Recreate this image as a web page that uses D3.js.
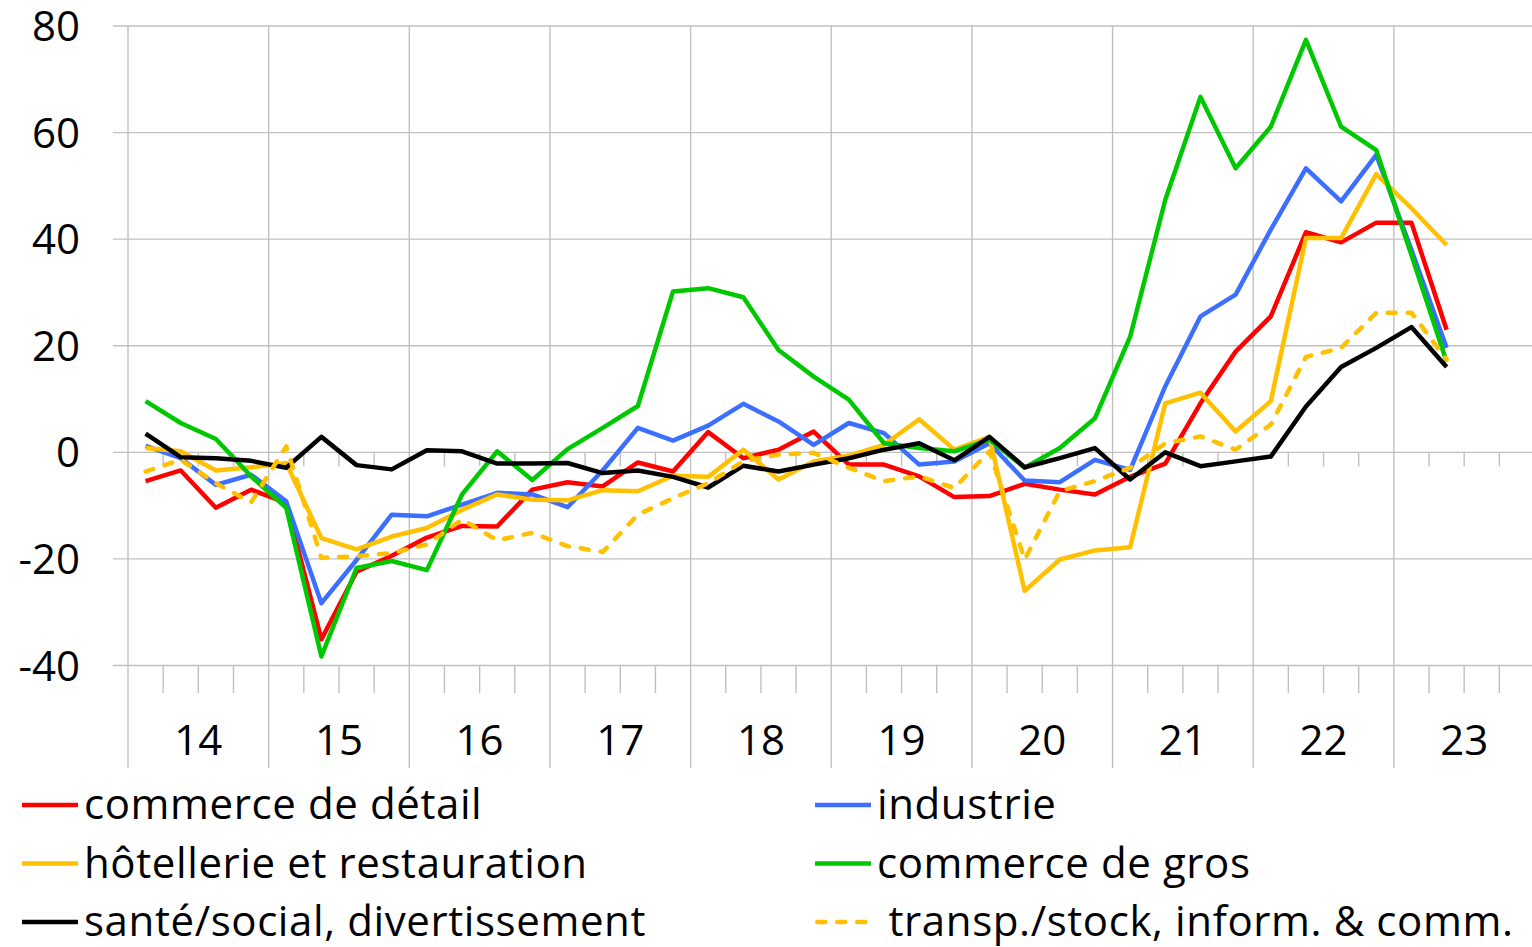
<!DOCTYPE html>
<html>
<head>
<meta charset="utf-8">
<script src="https://cdn.jsdelivr.net/npm/d3@7"></script>
<style>
  body { margin: 0; background: #fff; }
  svg text { font-family: "Open Sans", sans-serif; fill: #000; }
</style>
</head>
<body>
<svg id="chart" width="1532" height="947"></svg>
<script>
// quarters 2014T1 .. 2023T2
const years = ["14", "15", "16", "17", "18", "19", "20", "21", "22", "23"];
const quarters = [];
years.forEach(y => [1, 2, 3, 4].forEach(q => quarters.push("20" + y + "T" + q)));
const periods = quarters.slice(0, 38);

const yTicks = [-40, -20, 0, 20, 40, 60, 80];

const detail = [-5.4, -3.4, -10.4, -7, -9.5, -35.1, -22.4, -19.4, -16, -13.8, -13.9, -7, -5.6, -6.4, -1.9, -3.6, 3.8, -1.1, 0.5, 3.9, -2.3, -2.3, -4.5, -8.4, -8.2, -5.9, -7, -7.9, -4.6, -2.1, 9.2, 18.9, 25.5, 41.3, 39.4, 43.1, 43.1, 23];
const industrie = [1.2, -1.1, -6.1, -4.2, -9.2, -28.3, -20.2, -11.7, -12, -9.8, -7.6, -7.9, -10.3, -3.4, 4.6, 2.2, 5, 9.1, 5.8, 1.4, 5.5, 3.6, -2.3, -1.7, 1.7, -5.3, -5.6, -1.4, -3.3, 12.4, 25.5, 29.6, 41.8, 53.3, 47.1, 55.8, 38, 19.6];
const hotellerie = [0.8, 0.2, -3.4, -2.8, -2, -16.1, -18.2, -15.8, -14.2, -10.8, -7.9, -8.9, -9, -7.1, -7.3, -4.4, -4.6, 0.5, -5.1, -1.7, -0.6, 1.4, 6.2, 0.5, 2.9, -26, -20.1, -18.4, -17.8, 9.2, 11.2, 3.9, 9.6, 40.2, 40.2, 52.2, 45.8, 38.9];
const gros = [9.6, 5.5, 2.5, -4.5, -10.4, -38.3, -21.7, -20.4, -22.1, -7.9, 0.2, -5.2, 0.6, 4.6, 8.7, 30.2, 30.8, 29.1, 19.2, 14.2, 9.9, 1.7, 0.8, 0.2, 2.4, -2.9, 0.8, 6.4, 21.7, 47.4, 66.7, 53.3, 61.1, 77.4, 61.1, 56.7, 37, 17];
const sante = [3.5, -0.9, -1.1, -1.6, -2.9, 2.9, -2.4, -3.2, 0.4, 0.2, -2.1, -2.1, -2, -3.9, -3.4, -4.6, -6.6, -2.5, -3.6, -2.3, -1.1, 0.5, 1.7, -1.5, 2.9, -2.8, -1.1, 0.8, -5.1, 0, -2.6, -1.7, -0.8, 8.6, 16, 19.6, 23.5, 16];
const transp = [-3.6, -1.4, -5.8, -9.4, 1.1, -19.8, -19.5, -18.9, -17.3, -12.6, -16.5, -15.1, -17.6, -18.7, -11.7, -8.6, -5.8, -1.7, -0.4, -0.1, -2.9, -5.4, -4.5, -6.7, 0.2, -20.1, -7.3, -5.4, -2.9, 1.7, 3, 0.5, 5.2, 17.9, 19.6, 26.2, 26.2, 17.4];

const series = [
   { name: "commerce de détail", values: detail, color: "#ff0000", dash: null },
   { name: "industrie", values: industrie, color: "#3c6eff", dash: null },
   { name: "hôtellerie et restauration", values: hotellerie, color: "#ffc000", dash: null },
   { name: "commerce de gros", values: gros, color: "#00c800", dash: null },
   { name: "santé/social, divertissement", values: sante, color: "#000000", dash: null },
   { name: " transp./stock, inform. & comm.", values: transp, color: "#ffc000", dash: "8,12" }
];

const svg = d3.select("svg#chart");
const gridColor = "#c0c0c0";

const x = d3.scaleLinear().domain([0, quarters.length]).range([128, 1534.5]);
const y = d3.scaleLinear().domain([-40, 80]).range([665.5, 26]);

// horizontal grid
svg.append("g")
   .selectAll("line")
   .data(yTicks)
   .join("line")
   .attr("x1", 113).attr("x2", 1532)
   .attr("y1", d => y(d)).attr("y2", d => y(d))
   .attr("stroke", gridColor).attr("stroke-width", 1.4);

// vertical year lines
const yearIdx = d3.range(0, quarters.length + 1, 4);
svg.append("g")
   .selectAll("line")
   .data(yearIdx)
   .join("line")
   .attr("x1", d => x(d)).attr("x2", d => x(d))
   .attr("y1", y(80)).attr("y2", 768)
   .attr("stroke", gridColor).attr("stroke-width", 1.4);

// quarter ticks on the zero line and at the bottom
const qIdx = d3.range(0, quarters.length + 1).filter(i => i % 4 !== 0);
const ticks = svg.append("g");
ticks.selectAll("line.z")
   .data(qIdx)
   .join("line")
   .attr("class", "z")
   .attr("x1", d => x(d)).attr("x2", d => x(d))
   .attr("y1", y(0)).attr("y2", y(0) + 14)
   .attr("stroke", gridColor).attr("stroke-width", 1.4);
ticks.selectAll("line.b")
   .data(qIdx)
   .join("line")
   .attr("class", "b")
   .attr("x1", d => x(d)).attr("x2", d => x(d))
   .attr("y1", y(-40)).attr("y2", 693)
   .attr("stroke", gridColor).attr("stroke-width", 1.4);

// y labels
svg.append("g")
   .selectAll("text")
   .data(yTicks)
   .join("text")
   .attr("x", 80)
   .attr("y", d => y(d))
   .attr("dy", "0.36em")
   .attr("text-anchor", "end")
   .attr("font-size", 42)
   .text(d => d);

// year labels
svg.append("g")
   .selectAll("text")
   .data(years)
   .join("text")
   .attr("x", (d, i) => x(i * 4 + 2))
   .attr("y", 755)
   .attr("text-anchor", "middle")
   .attr("font-size", 42)
   .text(d => d);

// lines
const line = d3.line()
   .x((d, i) => x(i + 0.5))
   .y(d => y(d));

svg.append("g")
   .selectAll("path")
   .data(series)
   .join("path")
   .attr("d", d => line(d.values))
   .attr("fill", "none")
   .attr("stroke", d => d.color)
   .attr("stroke-width", 4.5)
   .attr("stroke-linejoin", "round")
   .attr("stroke-linecap", d => d.dash ? "round" : "butt")
   .attr("stroke-dasharray", d => d.dash);

// legend, two columns, row by row
const legend = svg.append("g")
   .selectAll("g")
   .data(series)
   .join("g")
   .attr("transform", (d, i) => `translate(${i % 2 === 0 ? 22 : 815},${805 + Math.floor(i / 2) * 58.5})`);

legend.append("line")
   .attr("x1", d => d.dash ? 2.25 : 0).attr("x2", 56)
   .attr("stroke", d => d.color)
   .attr("stroke-width", 4.5)
   .attr("stroke-linecap", d => d.dash ? "round" : "butt")
   .attr("stroke-dasharray", d => d.dash);

legend.append("text")
   .attr("x", 62)
   .attr("dy", "0.34em")
   .attr("font-size", 42)
   .attr("letter-spacing", 0.6)
   .attr("xml:space", "preserve")
   .style("white-space", "pre")
   .text(d => d.name);
</script>
</body>
</html>
